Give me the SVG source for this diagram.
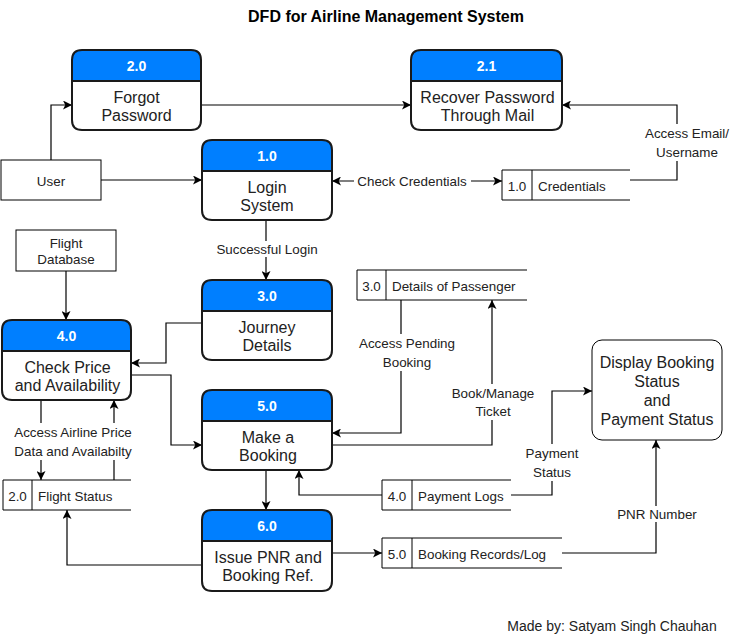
<svg xmlns="http://www.w3.org/2000/svg" width="731" height="641" viewBox="0 0 731 641">
<defs>
<marker id="arr" viewBox="0 0 10 10" refX="10" refY="5" markerWidth="9" markerHeight="9" markerUnits="userSpaceOnUse" orient="auto-start-reverse">
<path d="M0,0 L10,5 L0,10 L2.5,5 Z" fill="#000"/>
</marker>
<style>
text{font-family:"Liberation Sans",Arial,Helvetica,sans-serif;fill:#222;dominant-baseline:central;text-anchor:middle}
.body{fill:#fff;stroke:#1a1a1a;stroke-width:2}
.hdr{fill:#007FFF;stroke:#1a1a1a;stroke-width:2}
.hl{fill:#fff;font-weight:bold;font-size:14px}
.pl{font-size:16px}
.el{font-size:13.4px}
.sl{font-size:13.4px}
.lbg{fill:#fff}
.ln{fill:none;stroke:#000;stroke-width:1.2}
.st{fill:none;stroke:#000;stroke-width:1}
.ent{fill:#fff;stroke:#000;stroke-width:1}
</style>
</defs>
<rect width="731" height="641" fill="#fff"/>
<text x="386" y="16" style="font-size:16px;font-weight:bold;fill:#000">DFD for Airline Management System</text>

<g id="connectors">
<path class="ln" d="M51,160 V105 H72" marker-end="url(#arr)"/>
<path class="ln" d="M101,180 H202" marker-end="url(#arr)"/>
<path class="ln" d="M201,105 H411" marker-end="url(#arr)"/>
<path class="ln" d="M332,181 H502" marker-start="url(#arr)" marker-end="url(#arr)"/>
<path class="ln" d="M630,180 H677 V105 H562" marker-end="url(#arr)"/>
<path class="ln" d="M266,220 V280" marker-end="url(#arr)"/>
<path class="ln" d="M66,271 V320" marker-end="url(#arr)"/>
<path class="ln" d="M202,323 H166 V363 H131" marker-end="url(#arr)"/>
<path class="ln" d="M131,375 H171 V445 H202" marker-end="url(#arr)"/>
<path class="ln" d="M41,400 V480" marker-end="url(#arr)"/>
<path class="ln" d="M114,480 V400" marker-end="url(#arr)"/>
<path class="ln" d="M202,565 H67 V510" marker-end="url(#arr)"/>
<path class="ln" d="M266,470 V510" marker-end="url(#arr)"/>
<path class="ln" d="M401,300 V433 H332" marker-end="url(#arr)"/>
<path class="ln" d="M332,445 H492 V300" marker-end="url(#arr)"/>
<path class="ln" d="M382,495 H299 V470" marker-end="url(#arr)"/>
<path class="ln" d="M511,495 H552 V391 H592" marker-end="url(#arr)"/>
<path class="ln" d="M332,553 H382" marker-end="url(#arr)"/>
<path class="ln" d="M562,553 H656 V440" marker-end="url(#arr)"/>

<rect class="lbg" x="354" y="173" width="117" height="16"/>
<text class="el" x="412" y="181">Check Credentials</text>
<rect class="lbg" x="642" y="124" width="89" height="37"/>
<text class="el" x="687" y="133">Access Email/</text>
<text class="el" x="687" y="152">Username</text>
<rect class="lbg" x="212" y="241" width="110" height="16"/>
<text class="el" x="267" y="249">Successful Login</text>
<rect class="lbg" x="9" y="423" width="128" height="37"/>
<text class="el" x="73" y="432">Access Airline Price</text>
<text class="el" x="73" y="451">Data and Availabilty</text>
<rect class="lbg" x="355" y="334" width="104" height="37"/>
<text class="el" x="407" y="343">Access Pending</text>
<text class="el" x="407" y="362">Booking</text>
<rect class="lbg" x="449" y="384" width="88" height="36"/>
<text class="el" x="493" y="393">Book/Manage</text>
<text class="el" x="493" y="411">Ticket</text>
<rect class="lbg" x="522" y="444" width="60" height="37"/>
<text class="el" x="552" y="453">Payment</text>
<text class="el" x="552" y="472">Status</text>
<rect class="lbg" x="614" y="506" width="86" height="16"/>
<text class="el" x="657" y="514">PNR Number</text>
</g>

<g id="user">
<rect class="ent" x="1" y="160" width="100" height="40"/>
<text class="sl" x="51" y="181">User</text>
</g>
<g id="flight-database">
<rect class="ent" x="16" y="230" width="100" height="41"/>
<text class="sl" x="66" y="243">Flight</text>
<text class="sl" x="66" y="259">Database</text>
</g>

<g id="p2-0">
<path class="hdr" d="M72,81 V60 Q72,50 82,50 H191 Q201,50 201,60 V81 Z"/>
<path class="body" d="M72,81 H201 V120 Q201,130 191,130 H82 Q72,130 72,120 Z"/>
<text class="hl" x="136.5" y="66">2.0</text>
<text class="pl" x="136.5" y="97">Forgot</text>
<text class="pl" x="136.5" y="115">Password</text>
</g>
<g id="p2-1">
<path class="hdr" d="M411,81 V60 Q411,50 421,50 H552 Q562,50 562,60 V81 Z"/>
<path class="body" d="M411,81 H562 V120 Q562,130 552,130 H421 Q411,130 411,120 Z"/>
<text class="hl" x="486.5" y="66">2.1</text>
<text class="pl" x="487.5" y="97">Recover Password</text>
<text class="pl" x="487.5" y="115">Through Mail</text>
</g>
<g id="p1-0">
<path class="hdr" d="M202,171 V150 Q202,140 212,140 H322 Q332,140 332,150 V171 Z"/>
<path class="body" d="M202,171 H332 V210 Q332,220 322,220 H212 Q202,220 202,210 Z"/>
<text class="hl" x="267" y="156">1.0</text>
<text class="pl" x="267" y="187">Login</text>
<text class="pl" x="267" y="205">System</text>
</g>
<g id="p3-0">
<path class="hdr" d="M202,311 V290 Q202,280 212,280 H322 Q332,280 332,290 V311 Z"/>
<path class="body" d="M202,311 H332 V350 Q332,360 322,360 H212 Q202,360 202,350 Z"/>
<text class="hl" x="267" y="296">3.0</text>
<text class="pl" x="267" y="327">Journey</text>
<text class="pl" x="267" y="345">Details</text>
</g>
<g id="p4-0">
<path class="hdr" d="M2,351 V330 Q2,320 12,320 H121 Q131,320 131,330 V351 Z"/>
<path class="body" d="M2,351 H131 V390 Q131,400 121,400 H12 Q2,400 2,390 Z"/>
<text class="hl" x="66.5" y="336">4.0</text>
<text class="pl" x="67.5" y="367">Check Price</text>
<text class="pl" x="67.5" y="385">and Availability</text>
</g>
<g id="p5-0">
<path class="hdr" d="M202,421 V400 Q202,390 212,390 H322 Q332,390 332,400 V421 Z"/>
<path class="body" d="M202,421 H332 V460 Q332,470 322,470 H212 Q202,470 202,460 Z"/>
<text class="hl" x="267" y="406">5.0</text>
<text class="pl" x="268" y="437">Make a</text>
<text class="pl" x="268" y="455">Booking</text>
</g>
<g id="p6-0">
<path class="hdr" d="M202,541 V520 Q202,510 212,510 H322 Q332,510 332,520 V541 Z"/>
<path class="body" d="M202,541 H332 V581 Q332,591 322,591 H212 Q202,591 202,581 Z"/>
<text class="hl" x="267" y="526">6.0</text>
<text class="pl" x="268" y="557">Issue PNR and</text>
<text class="pl" x="268" y="575">Booking Ref.</text>
</g>
<g id="display-status">
<rect x="592" y="340" width="130" height="100" rx="10" fill="#fff" stroke="#000" stroke-width="1"/>
<text class="pl" x="657" y="362">Display Booking</text>
<text class="pl" x="657" y="381">Status</text>
<text class="pl" x="657" y="400">and</text>
<text class="pl" x="657" y="419">Payment Status</text>
</g>

<g id="ds-credentials">
<rect x="502" y="170" width="128" height="30" fill="#fff" stroke="none"/>
<path class="st" d="M630,170 H502 V200 H630 M532,170 V200"/>
<text class="sl" x="517" y="186">1.0</text>
<text class="sl" x="538" y="186" style="text-anchor:start">Credentials</text>
</g>
<g id="ds-passenger">
<rect x="357" y="270" width="170" height="30" fill="#fff" stroke="none"/>
<path class="st" d="M527,270 H357 V300 H527 M386,270 V300"/>
<text class="sl" x="371.5" y="286">3.0</text>
<text class="sl" x="392" y="286" style="text-anchor:start">Details of Passenger</text>
</g>
<g id="ds-flight-status">
<rect x="3" y="480" width="128" height="30" fill="#fff" stroke="none"/>
<path class="st" d="M131,480 H3 V510 H131 M32,480 V510"/>
<text class="sl" x="17.5" y="496">2.0</text>
<text class="sl" x="38" y="496" style="text-anchor:start">Flight Status</text>
</g>
<g id="ds-payment-logs">
<rect x="382" y="480" width="129" height="30" fill="#fff" stroke="none"/>
<path class="st" d="M511,480 H382 V510 H511 M412,480 V510"/>
<text class="sl" x="397" y="496">4.0</text>
<text class="sl" x="418" y="496" style="text-anchor:start">Payment Logs</text>
</g>
<g id="ds-booking-records">
<rect x="382" y="538" width="180" height="30" fill="#fff" stroke="none"/>
<path class="st" d="M562,538 H382 V568 H562 M412,538 V568"/>
<text class="sl" x="397" y="554">5.0</text>
<text class="sl" x="418" y="554" style="text-anchor:start">Booking Records/Log</text>
</g>

<text x="612" y="626" style="font-size:14px">Made by: Satyam Singh Chauhan</text>
</svg>
